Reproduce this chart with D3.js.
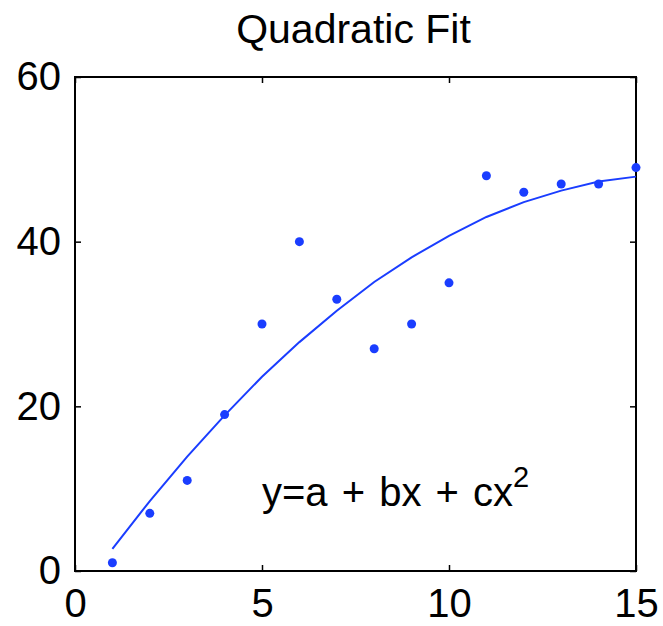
<!DOCTYPE html>
<html><head><meta charset="utf-8">
<script src="https://cdn.jsdelivr.net/npm/d3@7"></script>
<style>
html,body{margin:0;padding:0;background:#fff;}
svg{display:block;font-family:"Liberation Sans",Arial,Helvetica,sans-serif;}
</style></head>
<body>
<svg id="chart" width="663" height="626"></svg>
<script>
const title = "Quadratic Fit";
const xData = [1,2,3,4,5,6,7,8,9,10,11,12,13,14,15];
const yData = [1,7,11,19,30,40,33,27,30,35,48,46,47,47,49];
const yFit = [2.7,8.5,13.9,18.9,23.6,27.8,31.6,35.1,38.1,40.7,43.0,44.8,46.2,47.3,47.9];
const xTicks = [0,5,10,15];
const yTicks = [0,20,40,60];

const svg = d3.select("#chart");
const L = 75, R = 636, T = 77, B = 571;
const xS = d3.scaleLinear().domain([0,15]).range([L,R]);
const yS = d3.scaleLinear().domain([0,60]).range([B,T]);
const blue = "#1a3dff";
const tickLen = 6;

// frame
svg.append("rect").attr("x",L).attr("y",T).attr("width",R-L).attr("height",B-T)
  .attr("fill","none").attr("stroke","#000").attr("stroke-width",2);

// axes with inward ticks
const fs = 40;
const gBottom = svg.append("g").attr("transform",`translate(0,${B})`)
  .call(d3.axisBottom(xS).tickValues(xTicks).tickSizeInner(-tickLen).tickSizeOuter(0).tickPadding(18));
const gLeft = svg.append("g").attr("transform",`translate(${L},0)`)
  .call(d3.axisLeft(yS).tickValues(yTicks).tickSizeInner(-tickLen).tickSizeOuter(0).tickPadding(14));
const gTop = svg.append("g").attr("transform",`translate(0,${T})`)
  .call(d3.axisTop(xS).tickValues(xTicks).tickSizeInner(-tickLen).tickSizeOuter(0).tickFormat(""));
const gRight = svg.append("g").attr("transform",`translate(${R},0)`)
  .call(d3.axisRight(yS).tickValues(yTicks).tickSizeInner(-tickLen).tickSizeOuter(0).tickFormat(""));
[gBottom,gLeft,gTop,gRight].forEach(g=>{
  g.select(".domain").remove();
  g.selectAll(".tick line").attr("stroke","#000").attr("stroke-width",1.5);
  g.selectAll("text").attr("font-size",fs).attr("font-family","Liberation Sans, Arial, sans-serif").attr("fill","#000");
});
gBottom.selectAll("text").attr("dy","0.71em");

// fit line
svg.append("path").datum(xData.map((d,i)=>[d,yFit[i]]))
  .attr("d", d3.line().x(d=>xS(d[0])).y(d=>yS(d[1])))
  .attr("fill","none").attr("stroke",blue).attr("stroke-width",2);

// points
svg.append("g").selectAll("circle").data(xData.map((d,i)=>[d,yData[i]])).join("circle")
  .attr("cx",d=>xS(d[0])).attr("cy",d=>yS(d[1])).attr("r",4.5).attr("fill",blue);

// title
svg.append("text").attr("x",(L+R)/2 - 2).attr("y",43).attr("text-anchor","middle")
  .attr("font-size",41).attr("fill","#000").text(title);

// equation
const eq = svg.append("text").attr("x",262).attr("y",506).attr("font-size",40).attr("fill","#000")
  .attr("word-spacing",3);
eq.append("tspan").text("y=a + bx + cx");
eq.append("tspan").attr("font-size",29).attr("dy",-19).text("2");
</script>
</body></html>
